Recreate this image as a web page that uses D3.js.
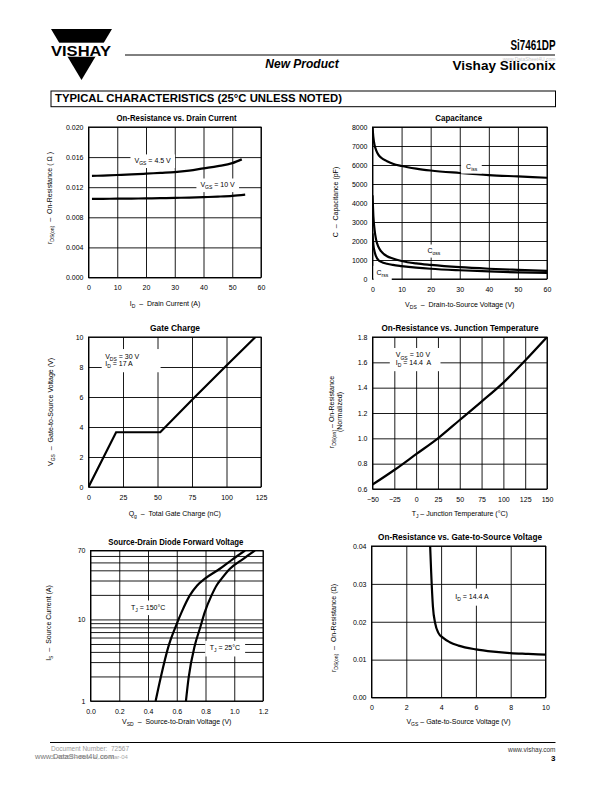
<!DOCTYPE html>
<html><head><meta charset="utf-8">
<script src="https://cdn.jsdelivr.net/npm/d3@7"></script>
<style>
body{margin:0;background:#fff}
svg{display:block}
text{font-family:"Liberation Sans",Arial,Helvetica,sans-serif;white-space:pre}
</style></head><body>
<svg id="c" width="612" height="792"></svg>
<script>
// ---------- DATA ----------
// 1. On-Resistance vs. Drain Current
const idA45 = [1.2, 5, 10, 15, 20, 25, 30, 35, 40, 45, 50, 53.3];
const rds45 = [0.01350, 0.01355, 0.01362, 0.01370, 0.01380, 0.01390, 0.01400, 0.01420, 0.01450, 0.01480, 0.01520, 0.01570];
const idA10 = [1.2, 5, 10, 15, 20, 25, 30, 35, 40, 45, 50, 54.5];
const rds10 = [0.01045, 0.01046, 0.01047, 0.01049, 0.01051, 0.01054, 0.01058, 0.01062, 0.01068, 0.01075, 0.01085, 0.01102];
const c1XTicks = [0, 10, 20, 30, 40, 50, 60];
const c1YTicks = [0, 0.004, 0.008, 0.012, 0.016, 0.020];
const c1YLabels = ["0.000", "0.004", "0.008", "0.012", "0.016", "0.020"];

// 2. Capacitance
const vdsCap = [0, 0.3, 0.7, 1.2, 2, 3, 5, 7, 10, 15, 20, 30, 40, 50, 60];
const ciss = [8000, 7450, 7050, 6800, 6550, 6380, 6200, 6070, 5950, 5810, 5710, 5580, 5470, 5400, 5330];
const coss = [4400, 3300, 2600, 2100, 1700, 1450, 1200, 1080, 950, 820, 740, 620, 540, 480, 430];
const crss = [2400, 1800, 1450, 1200, 1000, 900, 800, 740, 680, 600, 540, 460, 400, 350, 320];
const c2XTicks = [0, 10, 20, 30, 40, 50, 60];
const c2YTicks = [0, 1000, 2000, 3000, 4000, 5000, 6000, 7000, 8000];

// 3. Gate Charge
const qg = [0, 20, 52, 76, 100, 121];
const vgsQ = [0, 3.65, 3.65, 5.9, 8.1, 10];
const c3XTicks = [0, 25, 50, 75, 100, 125];
const c3YTicks = [0, 2, 4, 6, 8, 10];

// 4. On-Resistance vs. Junction Temperature
const tj = [-50, -25, 0, 25, 50, 75, 100, 125, 150];
const rNorm = [0.635, 0.75, 0.875, 1.0, 1.145, 1.29, 1.44, 1.615, 1.80];
const c4XTicks = [-50, -25, 0, 25, 50, 75, 100, 125, 150];
const c4XLabels = ["\u221250", "\u221225", "0", "25", "50", "75", "100", "125", "150"];
const c4YTicks = [0.6, 0.8, 1.0, 1.2, 1.4, 1.6, 1.8];
const c4YLabels = ["0.6", "0.8", "1.0", "1.2", "1.4", "1.6", "1.8"];

// 5. Source-Drain Diode Forward Voltage
const isA = [1, 1.89, 4.84, 7.73, 12.3, 19.7, 26.1, 31.6, 41.8, 55.4, 70];
const vsd150 = [0.453, 0.487, 0.545, 0.587, 0.634, 0.691, 0.742, 0.796, 0.90, 0.993, 1.075];
const vsd25 = [0.664, 0.682, 0.726, 0.761, 0.795, 0.842, 0.877, 0.912, 0.97, 1.063, 1.144];
const c5XTicks = [0, 0.2, 0.4, 0.6, 0.8, 1.0, 1.2];
const c5XLabels = ["0.0", "0.2", "0.4", "0.6", "0.8", "1.0", "1.2"];
const c5YGrid = [1, 2, 3, 4, 5, 6, 7, 8, 9, 10, 20, 30, 40, 50, 60, 70];
const c5YLabeled = [1, 10, 70];

// 6. On-Resistance vs. Gate-to-Source Voltage
const vgsR = [3.37, 3.43, 3.53, 3.66, 3.85, 4.1, 4.5, 5, 6, 7, 8, 9, 10];
const rdsV = [0.040, 0.033, 0.024, 0.0196, 0.0170, 0.0158, 0.0146, 0.0137, 0.0127, 0.0121, 0.0117, 0.0115, 0.0113];
const c6XTicks = [0, 2, 4, 6, 8, 10];
const c6YTicks = [0, 0.01, 0.02, 0.03, 0.04];
const c6YLabels = ["0.00", "0.01", "0.02", "0.03", "0.04"];

// ---------- DRAWING ----------
const svg = d3.select("#c");
const FONT = "'Liberation Sans', Arial, Helvetica, sans-serif";

function parseRich(s) {
  const parts = []; const re = /_\{([^}]*)\}/g; let last = 0, m;
  while ((m = re.exec(s))) {
    if (m.index > last) parts.push([s.slice(last, m.index), false]);
    parts.push([m[1], true]); last = re.lastIndex;
  }
  if (last < s.length) parts.push([s.slice(last), false]);
  return parts;
}
function rich(t, s, size) {
  let shifted = false;
  parseRich(s).forEach(([txt, sub]) => {
    const ts = t.append("tspan").text(txt);
    if (sub) { ts.attr("font-size", size * 0.72); if (!shifted) { ts.attr("dy", size * 0.3); shifted = true; } }
    else if (shifted) { ts.attr("dy", -size * 0.3); shifted = false; }
  });
}
function boxLabel(g, lines, px, py, anchor, pad) {
  const lg = g.append("g");
  const rect = lg.append("rect").attr("fill", "#fff");
  const nodes = lines.map((s, i) => {
    const t = lg.append("text").attr("x", px).attr("y", py + i * 7.6)
      .attr("font-size", 7).attr("text-anchor", anchor).attr("fill", "#000");
    rich(t, s, 7); return t.node();
  });
  let x0 = 1e9, y0 = 1e9, x1 = -1e9, y1 = -1e9;
  nodes.forEach(n => { const b = n.getBBox(); x0 = Math.min(x0, b.x); y0 = Math.min(y0, b.y); x1 = Math.max(x1, b.x + b.width); y1 = Math.max(y1, b.y + b.height); });
  rect.attr("x", x0 - pad[0]).attr("y", y0 - pad[2]).attr("width", x1 - x0 + pad[0] + pad[1]).attr("height", y1 - y0 + pad[2] + pad[3]);
}

let clipId = 0;
function makeChart(o) {
  const g = svg.append("g").attr("transform", `translate(${o.left},${o.top})`);
  const x = d3.scaleLinear().domain(o.xDomain).range([0, o.w]);
  const y = (o.yLog ? d3.scaleLog() : d3.scaleLinear()).domain(o.yDomain).range([o.h, 0]);
  const xAxis = d3.axisBottom(x).tickValues(o.xTicks).tickSize(-o.h).tickPadding(8)
    .tickFormat((d, i) => o.xLabels ? o.xLabels[i] : String(d));
  const gx = g.append("g").attr("transform", `translate(0,${o.h})`).call(xAxis);
  const yAxis = d3.axisLeft(y).tickValues(o.yTicks).tickSize(-o.w).tickPadding(5)
    .tickFormat(o.yFmt || ((d, i) => o.yLabels ? o.yLabels[i] : String(d)));
  const gy = g.append("g").call(yAxis);
  [gx, gy].forEach(a => {
    a.attr("font-family", FONT).attr("font-size", 7);
    a.select(".domain").remove();
    a.selectAll(".tick line").attr("stroke", "#000").attr("stroke-width", 0.9);
    a.selectAll(".tick text").attr("fill", "#000");
  });
  g.append("rect").attr("width", o.w).attr("height", o.h).attr("fill", "none").attr("stroke", "#000").attr("stroke-width", 1);
  g.append("text").attr("x", o.titleX - o.left).attr("y", -6).attr("text-anchor", "middle")
    .attr("font-size", 8.5).attr("font-weight", "bold").attr("textLength", o.titleW).attr("lengthAdjust", "spacingAndGlyphs")
    .text(o.title);
  const xt = g.append("text").attr("x", (o.xTitleX || (o.left + o.w / 2)) - o.left).attr("y", o.h + o.xTitleDy)
    .attr("text-anchor", "middle").attr("font-size", 7);
  rich(xt, o.xTitle, 7);
  o.yTitle.forEach((s, i) => {
    const yt = g.append("text").attr("transform", `translate(${o.yTitleX[i] - o.left},${o.yTitleY - o.top}) rotate(-90)`)
      .attr("text-anchor", "middle").attr("font-size", 7);
    rich(yt, s, 7);
  });
  const id = "clip" + (clipId++);
  g.append("clipPath").attr("id", id).append("rect").attr("width", o.w).attr("height", o.h);
  const plot = g.append("g").attr("clip-path", `url(#${id})`);
  return { g, plot, x, y };
}
function drawLine(c, xs, ys, curve) {
  const pts = xs.map((v, i) => [v, ys[i]]);
  c.plot.append("path").datum(pts)
    .attr("d", d3.line().x(d => c.x(d[0])).y(d => c.y(d[1])).curve(curve || d3.curveMonotoneX))
    .attr("fill", "none").attr("stroke", "#000").attr("stroke-width", 2.2);
}

// ---------- HEADER ----------
svg.append("path").attr("d", "M51,29 L112,29 L81.5,80 Z").attr("fill", "#000");
svg.append("rect").attr("x", 46).attr("y", 42.7).attr("width", 72).attr("height", 14).attr("fill", "#fff");
svg.append("text").attr("x", 51).attr("y", 55.5).attr("font-size", 15.5).attr("font-weight", 900)
  .attr("textLength", 60).attr("lengthAdjust", "spacingAndGlyphs").text("VISHAY");
svg.append("line").attr("x1", 125).attr("x2", 555).attr("y1", 55).attr("y2", 55).attr("stroke", "#000").attr("stroke-width", 1);
svg.append("text").attr("x", 555.5).attr("y", 50).attr("text-anchor", "end").attr("font-size", 14.5).attr("font-weight", "bold")
  .attr("textLength", 45).attr("lengthAdjust", "spacingAndGlyphs").text("Si7461DP");
svg.append("text").attr("x", 555.5).attr("y", 60.5).attr("text-anchor", "end").attr("font-size", 5).attr("fill", "#c8c8c8").text("www.DataSheet4U.com");
svg.append("text").attr("x", 555.5).attr("y", 70).attr("text-anchor", "end").attr("font-size", 13).attr("font-weight", "bold")
  .attr("textLength", 103).attr("lengthAdjust", "spacingAndGlyphs").text("Vishay Siliconix");
svg.append("text").attr("x", 302).attr("y", 68).attr("text-anchor", "middle").attr("font-size", 12).attr("font-weight", "bold").attr("font-style", "italic").text("New Product");
svg.append("rect").attr("x", 51).attr("y", 91).attr("width", 504.5).attr("height", 15.7).attr("fill", "none").attr("stroke", "#000").attr("stroke-width", 1);
svg.append("text").attr("x", 55).attr("y", 102.3).attr("font-size", 10).attr("font-weight", 900)
  .attr("textLength", 287).attr("lengthAdjust", "spacingAndGlyphs").text("TYPICAL CHARACTERISTICS (25\u00B0C UNLESS NOTED)");

// ---------- CHART 1 ----------
const c1 = makeChart({
  left: 88.5, top: 127, w: 172.5, h: 150.5, xDomain: [0, 60], yDomain: [0, 0.02],
  xTicks: c1XTicks, yTicks: c1YTicks, yLabels: c1YLabels,
  title: "On-Resistance vs. Drain Current", titleX: 176.5, titleW: 120,
  xTitle: "I_{D}  \u2013  Drain Current (A)", xTitleX: 165, xTitleDy: 28.5,
  yTitle: ["r_{DS(on)}  \u2013  On-Resistance ( \u03A9 )"], yTitleX: [52], yTitleY: 198
});
drawLine(c1, idA45, rds45);
drawLine(c1, idA10, rds10);
boxLabel(c1.g, ["V_{GS} = 4.5 V"], c1.x(22.3), c1.y(0.01556) + 2.5, "middle", [4, 4, 2.5, 2]);
boxLabel(c1.g, ["V_{GS} = 10 V"], c1.x(44.9), c1.y(0.01236) + 2.5, "middle", [4, 4, 2.5, 2]);

// ---------- CHART 2 ----------
const c2 = makeChart({
  left: 372.5, top: 127, w: 174.5, h: 152, xDomain: [0, 60], yDomain: [0, 8000],
  xTicks: c2XTicks, yTicks: c2YTicks,
  title: "Capacitance", titleX: 458.7, titleW: 47,
  xTitle: "V_{DS}  \u2013  Drain-to-Source Voltage (V)", xTitleDy: 28,
  yTitle: ["C  \u2013  Capacitance (pF)"], yTitleX: [338], yTitleY: 202
});
drawLine(c2, vdsCap, ciss);
drawLine(c2, vdsCap, coss);
drawLine(c2, vdsCap, crss);
boxLabel(c2.g, ["C_{iss}"], c2.x(34.1), c2.y(5947) + 2.5, "middle", [5, 4, 2.5, 2]);
boxLabel(c2.g, ["C_{oss}"], c2.x(21.1), c2.y(1526) + 2.5, "middle", [3, 3, 2, 2]);
boxLabel(c2.g, ["C_{rss}"], c2.x(3.4), c2.y(350) + 2.5, "middle", [3, 3, 3, 3]);

// ---------- CHART 3 ----------
const c3 = makeChart({
  left: 88.5, top: 337, w: 172.5, h: 150, xDomain: [0, 125], yDomain: [0, 10],
  xTicks: c3XTicks, yTicks: c3YTicks,
  title: "Gate Charge", titleX: 175, titleW: 50,
  xTitle: "Q_{g}  \u2013  Total Gate Charge (nC)", xTitleDy: 28.5,
  yTitle: ["V_{GS}  \u2013  Gate-to-Source Voltage (V)"], yTitleX: [53], yTitleY: 412
});
drawLine(c3, qg, vgsQ, d3.curveLinear);
boxLabel(c3.g, ["V_{DS} = 30 V", "I_{D} = 17 A"], c3.x(12.1), c3.y(8.73) + 2.5, "start", [3.5, 21, 3.5, 3]);

// ---------- CHART 4 ----------
const c4 = makeChart({
  left: 372.5, top: 337, w: 174.5, h: 152, xDomain: [-50, 150], yDomain: [0.6, 1.8],
  xTicks: c4XTicks, xLabels: c4XLabels, yTicks: c4YTicks, yLabels: c4YLabels,
  title: "On-Resistance vs. Junction Temperature", titleX: 460, titleW: 157,
  xTitle: "T_{J} \u2013 Junction Temperature (\u00B0C)", xTitleDy: 26.5,
  yTitle: ["r_{DS(on)} \u2013 On-Resistance", "(Normalized)"], yTitleX: [334, 341.5], yTitleY: 412
});
drawLine(c4, tj, rNorm);
boxLabel(c4.g, ["V_{GS} = 10 V", "I_{D} = 14.4  A"], c4.x(-23.3), c4.y(1.658) + 2.5, "start", [6, 9, 3.5, 3]);

// ---------- CHART 5 ----------
const c5 = makeChart({
  left: 90.5, top: 550.5, w: 172.5, h: 150.5, xDomain: [0, 1.2], yDomain: [1, 70], yLog: true,
  xTicks: c5XTicks, xLabels: c5XLabels, yTicks: c5YGrid,
  yFmt: d => c5YLabeled.includes(d) ? String(d) : "",
  title: "Source-Drain Diode Forward Voltage", titleX: 175.8, titleW: 135,
  xTitle: "V_{SD}  \u2013  Source-to-Drain Voltage (V)", xTitleDy: 23,
  yTitle: ["I_{S}  \u2013  Source Current (A)"], yTitleX: [51], yTitleY: 623
});
drawLine(c5, vsd150, isA);
drawLine(c5, vsd25, isA);
boxLabel(c5.g, ["T_{J} = 150\u00B0C"], c5.x(0.401), c5.y(14.2) + 2.5, "middle", [3, 3, 3, 2.5]);
boxLabel(c5.g, ["T_{J} = 25\u00B0C"], c5.x(0.935), c5.y(4.48) + 2.5, "middle", [4.5, 5, 3.5, 3]);

// ---------- CHART 6 ----------
const c6 = makeChart({
  left: 371.5, top: 546, w: 174, h: 151.5, xDomain: [0, 10], yDomain: [0, 0.04],
  xTicks: c6XTicks, yTicks: c6YTicks, yLabels: c6YLabels,
  title: "On-Resistance vs. Gate-to-Source Voltage", titleX: 460, titleW: 164,
  xTitle: "V_{GS} \u2013 Gate-to-Source Voltage (V)", xTitleDy: 26,
  yTitle: ["r_{DS(on)}  \u2013  On-Resistance (\u03A9)"], yTitleX: [336], yTitleY: 628
});
drawLine(c6, vgsR, rdsV);
boxLabel(c6.g, ["I_{D} = 14.4 A"], c6.x(5.77), c6.y(0.02678) + 2.5, "middle", [5, 5, 4, 4]);

// ---------- FOOTER ----------
svg.append("line").attr("x1", 50).attr("x2", 555.5).attr("y1", 742.5).attr("y2", 742.5).attr("stroke", "#000").attr("stroke-width", 1);
svg.append("text").attr("x", 51).attr("y", 751).attr("font-size", 6.5).attr("fill", "#999").text("Document Number:  72567");
svg.append("text").attr("x", 51).attr("y", 758.5).attr("font-size", 6).attr("fill", "#aaa").text("S-40367\u2014Rev. A, 08-Mar-04");
svg.append("text").attr("x", 35).attr("y", 758.5).attr("font-size", 7.5).attr("fill", "#777").text("www.DataSheet4U.com");
svg.append("text").attr("x", 555.5).attr("y", 752).attr("text-anchor", "end").attr("font-size", 6.5).attr("fill", "#333").text("www.vishay.com");
svg.append("text").attr("x", 555.5).attr("y", 761).attr("text-anchor", "end").attr("font-size", 8).attr("font-weight", "bold").text("3");
</script>
</body></html>
